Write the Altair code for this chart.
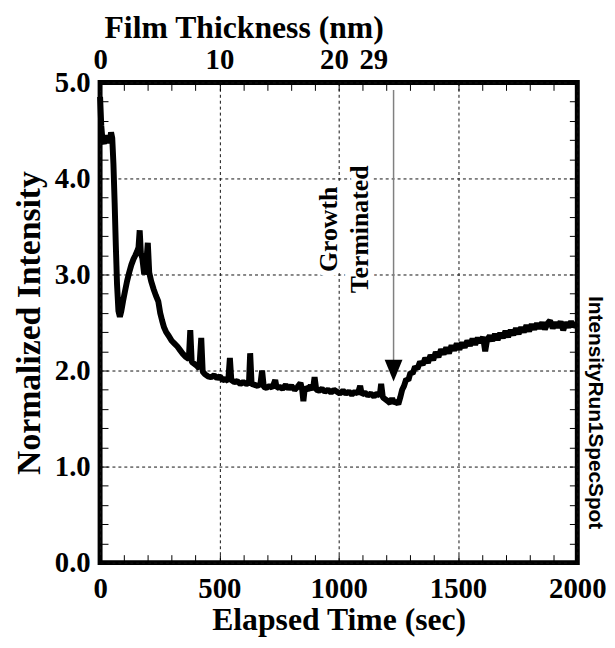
import altair as alt
import pandas as pd

# ---- data ----
time_s = [0, 5, 10, 16, 22, 28, 34, 40, 46, 51, 56, 61, 66, 71, 77, 83, 89, 96, 104, 113,
          122, 131, 140, 148, 155, 161, 166, 171, 177, 185, 193, 200, 206, 214, 224, 234,
          244, 252, 260, 268, 277, 288, 300, 312, 324, 336, 348, 360, 372, 378, 384, 395,
          406, 416, 424, 430, 440, 452, 465, 478, 490, 502, 514, 526, 537, 544, 550, 562,
          575, 588, 600, 613, 624, 629, 635, 648, 660, 672, 679, 686, 698, 710, 722, 734,
          740, 752, 765, 778, 790, 802, 815, 828, 840, 847, 852, 858, 870, 882, 892, 899,
          906, 918, 930, 942, 955, 968, 980, 993, 1005, 1018, 1030, 1043, 1055, 1068, 1080,
          1090, 1097, 1110, 1122, 1135, 1148, 1160, 1172, 1178, 1185, 1196, 1207, 1216,
          1224, 1232, 1241, 1250, 1258, 1266, 1274, 1283, 1292, 1301, 1310, 1320, 1330,
          1341, 1352, 1363, 1374, 1385, 1396, 1407, 1418, 1429, 1440, 1451, 1462, 1473,
          1484, 1495, 1506, 1517, 1528, 1539, 1550, 1561, 1572, 1583, 1594, 1605, 1614,
          1622, 1633, 1644, 1655, 1666, 1677, 1688, 1699, 1710, 1721, 1732, 1743, 1754,
          1765, 1776, 1787, 1798, 1809, 1820, 1831, 1842, 1853, 1864, 1875, 1886, 1897,
          1908, 1919, 1930, 1941, 1952, 1963, 1974, 1985, 2000]
intensity = [4.85, 4.55, 4.40, 4.36, 4.45, 4.38, 4.43, 4.37, 4.48, 4.42, 4.15, 3.75, 3.30,
             2.90, 2.62, 2.56, 2.62, 2.72, 2.82, 2.93, 3.02, 3.10, 3.16, 3.20, 3.24, 3.28,
             3.46, 3.22, 3.17, 3.00, 3.10, 3.33, 3.02, 2.93, 2.85, 2.78, 2.72, 2.60, 2.52,
             2.45, 2.40, 2.36, 2.31, 2.28, 2.25, 2.21, 2.17, 2.14, 2.12, 2.42, 2.09, 2.07,
             2.05, 2.02, 2.34, 1.99, 1.96, 1.94, 1.93, 1.95, 1.92, 1.94, 1.90, 1.91, 1.89,
             2.13, 1.90, 1.88, 1.89, 1.86, 1.88, 1.86, 1.87, 2.18, 1.86, 1.85, 1.84, 1.86,
             2.00, 1.83, 1.82, 1.84, 1.82, 1.90, 1.82, 1.83, 1.81, 1.85, 1.81, 1.84, 1.80,
             1.83, 1.87, 1.80, 1.68, 1.82, 1.80, 1.84, 1.80, 1.93, 1.80, 1.79, 1.81, 1.78,
             1.80, 1.77, 1.80, 1.78, 1.76, 1.79, 1.76, 1.78, 1.75, 1.78, 1.76, 1.84, 1.75,
             1.77, 1.74, 1.76, 1.73, 1.76, 1.74, 1.86, 1.72, 1.70, 1.68, 1.66, 1.71, 1.66,
             1.68, 1.65, 1.72, 1.80, 1.84, 1.91, 1.90, 1.98, 1.97, 2.04, 2.02, 2.09, 2.06,
             2.13, 2.08, 2.16, 2.11, 2.19, 2.14, 2.22, 2.17, 2.24, 2.18, 2.26, 2.21, 2.28,
             2.22, 2.29, 2.24, 2.31, 2.26, 2.33, 2.27, 2.34, 2.29, 2.35, 2.20, 2.32, 2.36,
             2.31, 2.38, 2.32, 2.39, 2.34, 2.41, 2.35, 2.42, 2.37, 2.44, 2.38, 2.45, 2.40,
             2.47, 2.41, 2.48, 2.43, 2.49, 2.44, 2.50, 2.43, 2.49, 2.52, 2.44, 2.50, 2.45,
             2.51, 2.42, 2.50, 2.45, 2.51, 2.46, 2.49]

x_label_values = [0, 500, 1000, 1500, 2000]
y_label_values = [0, 1, 2, 3, 4, 5]
x_minor_ticks = list(range(0, 2001, 100))
y_minor_ticks = [round(i * 0.2, 1) for i in range(26)]
top_label_pos = [0, 500, 980, 1145]
top_label_text = ["0", "10", "20", "29"]

arrow_time = [1230]
arrow_top = [4.92]
arrow_head = [2.0]
note_time = [958]
note_value = [3.47]
note_text = ["Growth\nTerminated"]

df = pd.DataFrame({"t": time_s, "v": intensity})
arrow_df = pd.DataFrame({"t": arrow_time, "y1": arrow_top, "y2": arrow_head})
head_df = pd.DataFrame({"t": arrow_time, "v": arrow_head})
note_df = pd.DataFrame({"t": note_time, "v": note_value, "label": note_text})

SERIF = "Liberation Serif"
SANS = "Liberation Sans"
W, H = 482, 485

xs = alt.Scale(domain=[0, 2000], nice=False)
ys = alt.Scale(domain=[0, 5], nice=False)

top_expr = " : ".join(
    f"datum.value == {p} ? '{s}'" for p, s in zip(top_label_pos, top_label_text)
) + " : ''"

# main line with bottom/left labelled axes and grid
line = alt.Chart(df).mark_line(color="black", strokeWidth=6, strokeJoin="bevel").encode(
    x=alt.X("t:Q", scale=xs, axis=alt.Axis(
        orient="bottom", values=x_label_values, format="d", ticks=False, domain=False,
        grid=True, gridDash=[3, 3], gridColor="#111111", gridWidth=1,
        labelFont=SERIF, labelFontSize=29, labelFontWeight="bold", labelColor="black",
        labelPadding=12, labelFlush=False, labelOverlap=False,
        title="Elapsed Time (sec)", titleFont=SERIF, titleFontSize=32,
        titleFontWeight="bold", titleColor="black", titleBaseline="alphabetic",
        titleY=68, titleX=W / 2, titleAlign="center")),
    y=alt.Y("v:Q", scale=ys, axis=alt.Axis(
        orient="left", values=y_label_values, format=".1f", ticks=False, domain=False,
        grid=True, gridDash=[3, 3], gridColor="#111111", gridWidth=1,
        labelFont=SERIF, labelFontSize=29, labelFontWeight="bold", labelColor="black",
        labelPadding=10, labelFlush=False, labelOverlap=False,
        title="Normalized Intensity", titleFont=SERIF, titleFontSize=34,
        titleFontWeight="bold", titleColor="black", titleAngle=270,
        titleBaseline="middle", titleAlign="center", titleX=-71, titleY=H / 2)),
)

# halo behind annotation text (interrupts the grid)
halo = alt.Chart(note_df).mark_text(
    font=SERIF, fontSize=26, fontWeight="bold", angle=270, lineBreak="\n",
    lineHeight=32, align="center", baseline="middle",
    color="white", stroke="white", strokeWidth=12,
).encode(x=alt.X("t:Q", scale=xs, axis=None), y=alt.Y("v:Q", scale=ys, axis=None),
         text="label:N")

note = alt.Chart(note_df).mark_text(
    font=SERIF, fontSize=26, fontWeight="bold", angle=270, lineBreak="\n",
    lineHeight=32, align="center", baseline="middle", color="black",
).encode(
    x=alt.X("t:Q", scale=xs, axis=alt.Axis(
        orient="top", values=top_label_pos, labelExpr=top_expr, ticks=False,
        domain=False, grid=False, labelFont=SERIF, labelFontSize=29,
        labelFontWeight="bold", labelColor="black", labelBaseline="alphabetic",
        labelPadding=14, labelFlush=False, labelOverlap=False,
        title="Film Thickness (nm)", titleFont=SERIF, titleFontSize=32,
        titleFontWeight="bold", titleColor="black", titleBaseline="alphabetic",
        titleAlign="center", titleX=145, titleY=-45)),
    y=alt.Y("v:Q", scale=ys, axis=alt.Axis(
        orient="right", labels=False, ticks=False, domain=False, grid=False,
        title="IntensityRun1SpecSpot", titleFont=SANS, titleFontSize=21,
        titleFontWeight="bold", titleColor="black", titleAngle=90,
        titleAlign="center", titleBaseline="middle", titleX=17, titleY=333)),
    text="label:N",
)

# arrow shaft, carrying inward ticks on bottom and left edges
rule = alt.Chart(arrow_df).mark_rule(color="#808080", strokeWidth=1.5).encode(
    x=alt.X("t:Q", scale=xs, axis=alt.Axis(
        orient="top", offset=-H, values=x_minor_ticks, labels=False, domain=False,
        grid=False, ticks=True, tickSize=8, tickColor="black", tickWidth=1, title=None)),
    y=alt.Y("y1:Q", scale=ys, axis=alt.Axis(
        orient="right", offset=-W, values=y_minor_ticks, labels=False, domain=False,
        grid=False, ticks=True, tickSize=8, tickColor="black", tickWidth=1, title=None)),
    y2="y2:Q",
)

# arrow head, carrying inward ticks on top and right edges
head = alt.Chart(head_df).mark_point(
    shape="M-1,-1.22L1,-1.22L0,1.22Z", size=324, filled=True, color="black", opacity=1,
).encode(
    x=alt.X("t:Q", scale=xs, axis=alt.Axis(
        orient="bottom", offset=-H, values=x_minor_ticks, labels=False, domain=False,
        grid=False, ticks=True, tickSize=8, tickColor="black", tickWidth=1, title=None)),
    y=alt.Y("v:Q", scale=ys, axis=alt.Axis(
        orient="left", offset=-W, values=y_minor_ticks, labels=False, domain=False,
        grid=False, ticks=True, tickSize=8, tickColor="black", tickWidth=1, title=None)),
)

chart = alt.layer(line, halo, note, rule, head).resolve_axis(
    x="independent", y="independent"
).properties(
    width=W, height=H,
    autosize=alt.AutoSizeParams(type="none"),
    padding={"left": 93, "top": 72, "right": 30, "bottom": 75},
    background="white",
).configure_view(stroke="black", strokeWidth=5)

chart.save("out.html", embed_options={"renderer": "svg", "actions": False})
